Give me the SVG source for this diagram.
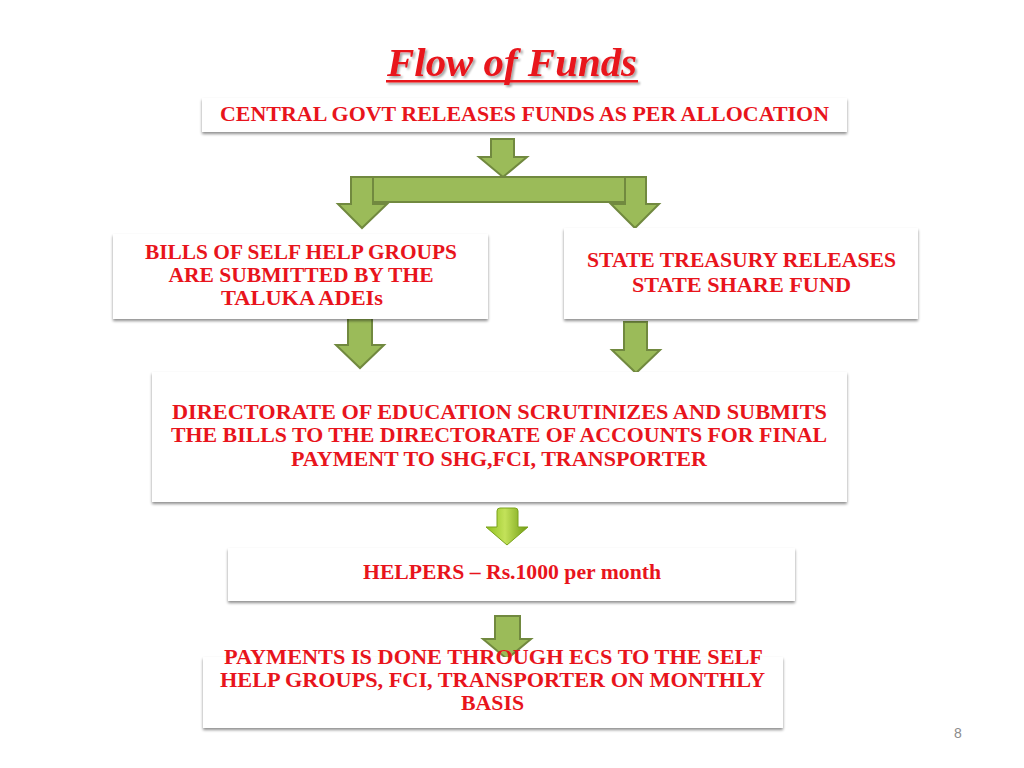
<svg xmlns="http://www.w3.org/2000/svg" width="1024" height="768" viewBox="0 0 1024 768">
<defs>
<style>
.box{fill:#fff;filter:url(#sh)}
.t{font-family:"Liberation Serif","Times New Roman",serif;font-weight:bold;fill:#e8141c;text-anchor:middle;font-size:21px}
.ar{fill:#9bbb59;stroke:#71893f;stroke-width:2;stroke-linejoin:miter}
</style>
<filter id="sh" x="-5%" y="-20%" width="110%" height="150%">
<feGaussianBlur in="SourceAlpha" stdDeviation="1.5"/>
<feOffset dx="0" dy="2" result="b"/>
<feComponentTransfer><feFuncA type="linear" slope="0.45"/></feComponentTransfer>
<feMerge><feMergeNode/><feMergeNode in="SourceGraphic"/></feMerge>
</filter>
<filter id="tsh" x="-5%" y="-20%" width="110%" height="150%">
<feGaussianBlur in="SourceAlpha" stdDeviation="1"/>
<feOffset dx="1.5" dy="2"/>
<feComponentTransfer><feFuncA type="linear" slope="0.35"/></feComponentTransfer>
<feMerge><feMergeNode/><feMergeNode in="SourceGraphic"/></feMerge>
</filter>
<linearGradient id="gl" x1="0" y1="0" x2="1" y2="0">
<stop offset="0" stop-color="#8fbf1e"/>
<stop offset="0.45" stop-color="#c3e25a"/>
<stop offset="1" stop-color="#6f9a12"/>
</linearGradient>
</defs>
<rect width="1024" height="768" fill="#fff"/>

<g id="title" filter="url(#tsh)">
<text x="512" y="76" class="t" style="font-style:italic;font-size:41px" textLength="250" lengthAdjust="spacingAndGlyphs">Flow of Funds</text>
<rect x="386" y="80" width="252" height="2.5" fill="#e8141c"/>
</g>

<g id="connectors">
<polygon class="ar" points="491,139 514,139 514,157 527,157 503,177 479,157 491,157"/>
<rect class="ar" x="372" y="177" width="253" height="25"/>
<polygon class="ar" points="351,177 373,177 373,204 387,204 362,228 338,204 351,204"/>
<polygon class="ar" points="625,177 646,177 646,204 659,204 635,228 611,204 625,204"/>
<polygon class="ar" points="348,318 372,318 372,345 384,345 360,368 336,345 348,345"/>
<polygon class="ar" points="624,322 647,322 647,350 660,350 636,373 612,350 624,350"/>
<path d="M497,511 Q497,508 500,508 L515,508 Q518,508 518,511 L518,527 L528,527 L507,545 L486,527 L497,527 Z" fill="url(#gl)" stroke="#7aa21c" stroke-width="1"/>
<polygon class="ar" points="495,616 520,616 520,639 531,639 507,659 483,639 495,639"/>
</g>

<g id="n1">
<rect class="box" x="202" y="98" width="645" height="34"/>
<text class="t" x="524.5" y="121" textLength="609" lengthAdjust="spacingAndGlyphs">CENTRAL GOVT RELEASES FUNDS AS PER ALLOCATION</text>
</g>

<g id="n2">
<rect class="box" x="113" y="234" width="375" height="85"/>
<text class="t" x="301" y="259" textLength="312" lengthAdjust="spacingAndGlyphs">BILLS OF SELF HELP GROUPS</text>
<text class="t" x="301" y="282" textLength="265" lengthAdjust="spacingAndGlyphs">ARE SUBMITTED BY THE</text>
<text class="t" x="302" y="305" textLength="162" lengthAdjust="spacingAndGlyphs">TALUKA ADEIs</text>
</g>

<g id="n3">
<rect class="box" x="564" y="228" width="354" height="91"/>
<text class="t" x="741.5" y="267" textLength="309" lengthAdjust="spacingAndGlyphs">STATE TREASURY RELEASES</text>
<text class="t" x="741.5" y="292" textLength="219" lengthAdjust="spacingAndGlyphs">STATE SHARE FUND</text>
</g>

<g id="n4">
<rect class="box" x="152" y="372" width="695" height="130"/>
<text class="t" x="499.5" y="419" textLength="655" lengthAdjust="spacingAndGlyphs">DIRECTORATE OF EDUCATION SCRUTINIZES AND SUBMITS</text>
<text class="t" x="499" y="442" textLength="656" lengthAdjust="spacingAndGlyphs">THE BILLS TO THE DIRECTORATE OF ACCOUNTS FOR FINAL</text>
<text class="t" x="499" y="466" textLength="416" lengthAdjust="spacingAndGlyphs">PAYMENT TO SHG,FCI, TRANSPORTER</text>
</g>

<g id="n5">
<rect class="box" x="228" y="548" width="567" height="53"/>
<text class="t" x="512" y="579" textLength="298" lengthAdjust="spacingAndGlyphs">HELPERS – Rs.1000 per month</text>
</g>

<g id="n6">
<rect class="box" x="203" y="657" width="580" height="71"/>
<text class="t" x="493.5" y="664" textLength="539" lengthAdjust="spacingAndGlyphs">PAYMENTS IS DONE THROUGH ECS  TO THE SELF</text>
<text class="t" x="492.5" y="687" textLength="545" lengthAdjust="spacingAndGlyphs">HELP GROUPS,  FCI, TRANSPORTER ON MONTHLY</text>
<text class="t" x="492.5" y="710" textLength="63" lengthAdjust="spacingAndGlyphs">BASIS</text>
</g>

<text x="958" y="738" font-family="Liberation Sans, Arial, sans-serif" font-size="14" fill="#8c8c8c" text-anchor="middle">8</text>
</svg>
